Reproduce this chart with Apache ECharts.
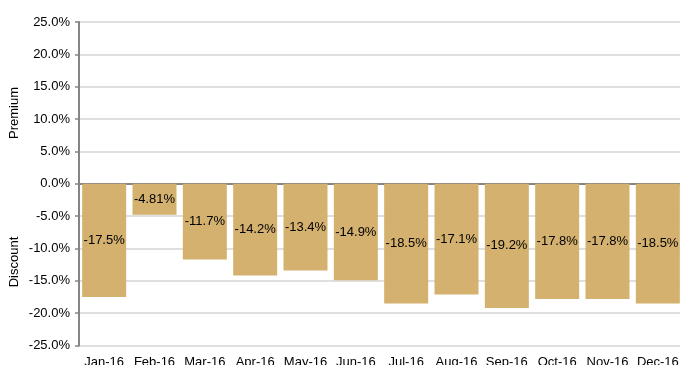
<!DOCTYPE html>
<html>
<head>
<meta charset="utf-8">
<script src="https://cdn.jsdelivr.net/npm/echarts@6/dist/echarts.min.js"></script>
<style>
  html,body{margin:0;padding:0;background:#fff;}
  #main{width:680px;height:365px;}
</style>
</head>
<body>
<div id="main"></div>
<script>
'strict mode'

var months = ['Jan-16','Feb-16','Mar-16','Apr-16','May-16','Jun-16','Jul-16','Aug-16','Sep-16','Oct-16','Nov-16','Dec-16'];
var discount = [-17.5, -4.81, -11.7, -14.2, -13.4, -14.9, -18.5, -17.1, -19.2, -17.8, -17.8, -18.5];

var font = 'Liberation Sans, Arial, sans-serif';

var chart = echarts.init(document.getElementById('main'));
var option = {
    animation: false,
    grid: {left: 79, right: -3, top: 22, bottom: 19.5, outerBoundsMode: 'none', containLabel: false},
    xAxis: [{
        type: 'category',
        data: months,
        position: 'bottom',
        axisLine: {show: false, onZero: false},
        axisTick: {show: false},
        axisLabel: {
            interval: 0,
            margin: 10,
            color: '#000',
            fontSize: 13,
            fontFamily: font
        }
    }, {
        type: 'category',
        data: months,
        position: 'top',
        axisLine: {onZero: true, lineStyle: {color: '#858585', width: 2}},
        axisTick: {inside: true, length: 4, lineStyle: {color: '#858585', width: 1.5}},
        axisLabel: {show: false}
    }],
    yAxis: {
        type: 'value',
        min: -25,
        max: 25,
        interval: 5,
        axisLine: {show: true, lineStyle: {color: '#858585', width: 2}},
        axisTick: {show: true, length: 4, lineStyle: {color: '#858585', width: 1.5}},
        splitLine: {lineStyle: {color: '#d4d4d4', width: 1.5}},
        axisLabel: {
            margin: 9,
            color: '#000',
            fontSize: 13,
            fontFamily: font,
            formatter: function(v){ return v.toFixed(1) + '%'; }
        }
    },
    graphic: [{
        type: 'text',
        x: 14, y: 113,
        rotation: Math.PI / 2,
        style: {text: 'Premium', fill: '#000', font: '13px ' + font, align: 'center', verticalAlign: 'middle'}
    }, {
        type: 'text',
        x: 14, y: 262,
        rotation: Math.PI / 2,
        style: {text: 'Discount', fill: '#000', font: '13px ' + font, align: 'center', verticalAlign: 'middle'}
    }],
    series: [{
        type: 'bar',
        data: discount,
        xAxisIndex: 0,
        barCategoryGap: '12.6%',
        itemStyle: {color: '#D4B16E'},
        label: {
            show: true,
            position: 'inside',
            color: '#000',
            fontSize: 13,
            fontFamily: font,
            formatter: function(p){ return p.value + '%'; }
        }
    }]
};
chart.setOption(option);
</script>
</body>
</html>
